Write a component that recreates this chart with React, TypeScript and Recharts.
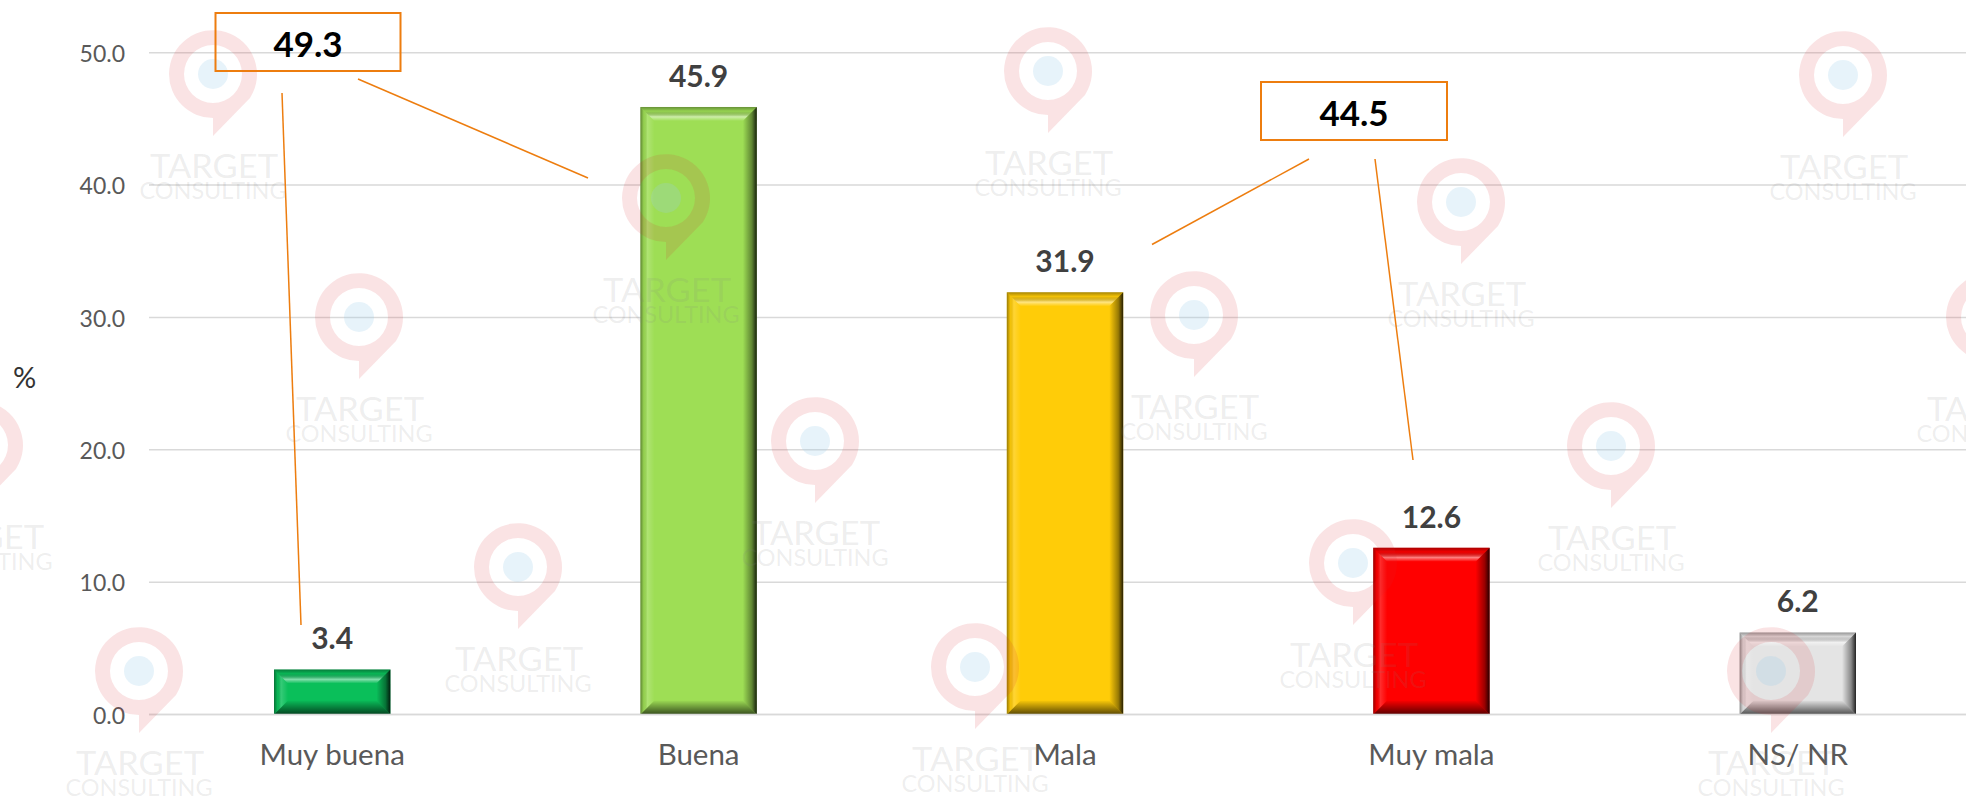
import { BarChart, Bar, XAxis, YAxis, CartesianGrid, LabelList } from 'recharts';

const categories = ['Muy buena', 'Buena', 'Mala', 'Muy mala', 'NS/ NR'];
const percentages = [3.4, 45.9, 31.9, 12.6, 6.2];
const yTicks = [0, 10, 20, 30, 40, 50];
const barColors = ['#0ABF5A', '#9EDE55', '#FFCC08', '#FF0000', '#E4E4E4'];

const rows = categories.map((name, i) => ({ name, value: percentages[i] }));

// logo repeated behind the picture, centre of each pin
const pins = [
  [213, 74], [1048, 71], [1843, 75],
  [666, 198], [1461, 202],
  [359, 317], [1194, 315], [1990, 317],
  [815, 441], [1611, 446], [-21, 445],
  [518, 567], [1353, 563],
  [139, 671], [975, 667], [1771, 671],
];

const ORANGE = '#ED7D0F';
const FONT = 'Lato, sans-serif';

function BevelBar(props: any) {
  const { x, y, width: w, height: h, index } = props;
  const b = Math.min(14, h / 2);
  return (
    <g>
      <rect x={x} y={y} width={w} height={h} fill={barColors[index]} />
      <polygon points={`${x},${y} ${x + w},${y} ${x + w - b},${y + b} ${x + b},${y + b}`} fill="url(#bevelTop)" />
      <polygon points={`${x},${y + h} ${x + w},${y + h} ${x + w - b},${y + h - b} ${x + b},${y + h - b}`} fill="url(#bevelBottom)" />
      <polygon points={`${x},${y} ${x + b},${y + b} ${x + b},${y + h - b} ${x},${y + h}`} fill="url(#bevelLeft)" />
      <polygon points={`${x + w},${y} ${x + w - b},${y + b} ${x + w - b},${y + h - b} ${x + w},${y + h}`} fill="url(#bevelRight)" />
    </g>
  );
}

function Pin({ cx, cy }: { cx: number; cy: number }) {
  const ring =
    `M${cx - 44},${cy} a44,44 0 1,1 81,24 L${cx},${cy + 62} L${cx},${cy + 44} a44,44 0 0,1 -44,-44 Z ` +
    `M${cx - 29},${cy} a29,29 0 1,0 58,0 a29,29 0 1,0 -58,0 Z`;
  return (
    <g>
      <path d={ring} fill="#D8242C" fillOpacity={0.13} fillRule="evenodd" />
      <circle cx={cx} cy={cy} r={15} fill="#9CCBEB" fillOpacity={0.24} />
      <text x={cx + 1} y={cy + 104} textAnchor="middle" fontSize={32} textLength={128} lengthAdjust="spacingAndGlyphs" fontFamily={FONT} fill="#808080" fillOpacity={0.14}>TARGET</text>
      <text x={cx} y={cy + 125} textAnchor="middle" fontSize={24} textLength={147} lengthAdjust="spacingAndGlyphs" fontFamily={FONT} fill="#808080" fillOpacity={0.14}>CONSULTING</text>
    </g>
  );
}

function Callout({ x, y, w, h, label }: { x: number; y: number; w: number; h: number; label: string }) {
  return (
    <g>
      <rect x={x} y={y} width={w} height={h} fill="none" stroke={ORANGE} strokeWidth={2} />
      <text x={x + w / 2} y={y + h / 2 + 15} textAnchor="middle" fontSize={35} fontWeight={700} fontFamily={FONT} fill="#000">{label}</text>
    </g>
  );
}

export default function App() {
  return (
    <div style={{ position: 'absolute', left: 0, top: 0, width: 1966, height: 801, overflow: 'hidden', background: '#fff' }}>
      <BarChart
        width={1990}
        height={801}
        data={rows}
        margin={{ top: 52.7, right: 9, left: 0, bottom: 0 }}
      >
        <defs>
          <linearGradient id="bevelTop" x1="0" y1="0" x2="0" y2="1">
            <stop offset="0" stopColor="#000" stopOpacity={0.35} />
            <stop offset="0.3" stopColor="#000" stopOpacity={0.05} />
            <stop offset="0.7" stopColor="#fff" stopOpacity={0.5} />
            <stop offset="1" stopColor="#fff" stopOpacity={0} />
          </linearGradient>
          <linearGradient id="bevelBottom" x1="0" y1="1" x2="0" y2="0">
            <stop offset="0" stopColor="#000" stopOpacity={0.65} />
            <stop offset="1" stopColor="#000" stopOpacity={0.02} />
          </linearGradient>
          <linearGradient id="bevelLeft" x1="0" y1="0" x2="1" y2="0">
            <stop offset="0" stopColor="#000" stopOpacity={0.4} />
            <stop offset="0.25" stopColor="#000" stopOpacity={0.05} />
            <stop offset="0.5" stopColor="#fff" stopOpacity={0.18} />
            <stop offset="1" stopColor="#fff" stopOpacity={0} />
          </linearGradient>
          <linearGradient id="bevelRight" x1="1" y1="0" x2="0" y2="0">
            <stop offset="0" stopColor="#000" stopOpacity={0.85} />
            <stop offset="0.35" stopColor="#000" stopOpacity={0.4} />
            <stop offset="1" stopColor="#000" stopOpacity={0} />
          </linearGradient>
        </defs>
        <CartesianGrid vertical={false} stroke="#D9D9D9" strokeWidth={1.5} />
        <XAxis
          dataKey="name"
          height={86.5}
          tickLine={false}
          axisLine={{ stroke: '#D9D9D9', strokeWidth: 1.5 }}
          tick={{ fill: '#595959', fontSize: 29.5, fontFamily: FONT }}
          tickMargin={24}
        />
        <YAxis
          width={149}
          domain={[0, 50]}
          ticks={yTicks}
          tickFormatter={(v) => Number(v).toFixed(1)}
          tickLine={false}
          axisLine={false}
          tick={{ fill: '#595959', fontSize: 23, fontFamily: FONT, dy: 1 }}
          tickMargin={18}
        />
        <Bar dataKey="value" barSize={116.4} isAnimationActive={false} shape={BevelBar}>
          <LabelList
            dataKey="value"
            position="top"
            offset={20}
            formatter={(v: any) => Number(v).toFixed(1)}
            style={{ fill: '#404040', fontSize: 30, fontWeight: 700, fontFamily: FONT }}
          />
        </Bar>
      </BarChart>
      <svg width={1966} height={801} style={{ position: 'absolute', left: 0, top: 0, pointerEvents: 'none' }}>
        {pins.map(([cx, cy]) => (
          <Pin key={`${cx}-${cy}`} cx={cx} cy={cy} />
        ))}
        <text x={24.5} y={388} textAnchor="middle" fontSize={29} fontFamily={FONT} fill="#333">%</text>
        <Callout x={215.5} y={13} w={185} h={58} label="49.3" />
        <Callout x={1261} y={82} w={186} h={58} label="44.5" />
        <line x1={282} y1={93} x2={301} y2={625} stroke={ORANGE} strokeWidth={1.5} />
        <line x1={358} y1={79} x2={588} y2={178} stroke={ORANGE} strokeWidth={1.5} />
        <line x1={1309} y1={159} x2={1152} y2={244.5} stroke={ORANGE} strokeWidth={1.5} />
        <line x1={1375} y1={159} x2={1413} y2={460} stroke={ORANGE} strokeWidth={1.5} />
      </svg>
    </div>
  );
}
